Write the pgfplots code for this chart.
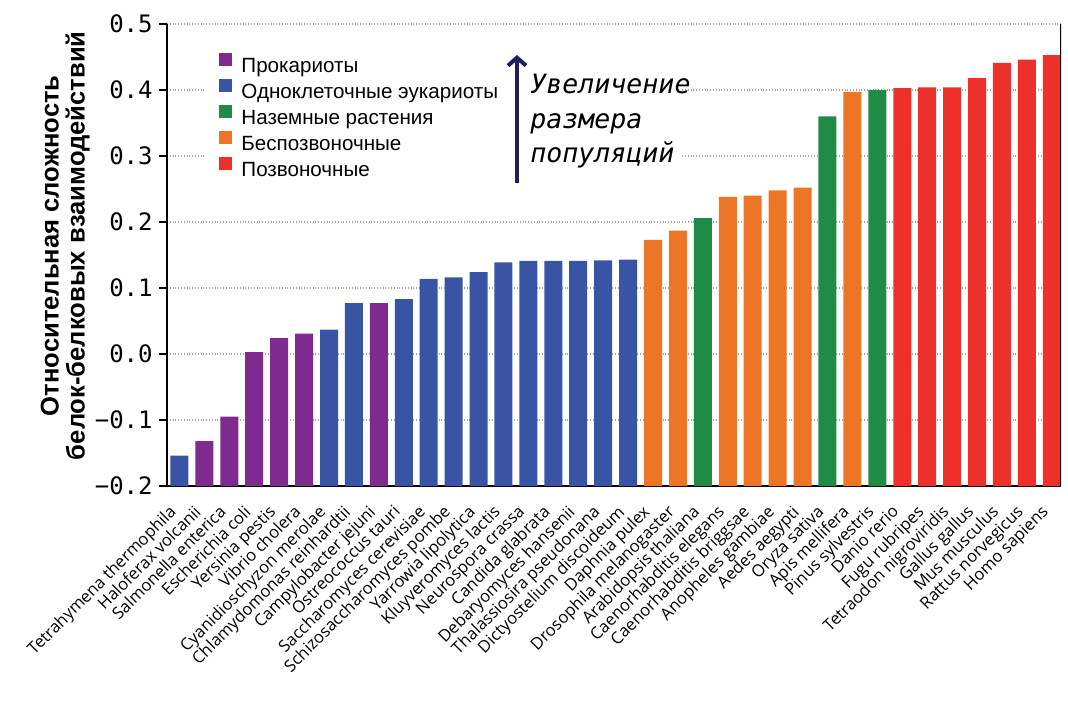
\documentclass[border=0pt]{standalone}
\usepackage{fontspec}
\setmainfont{Liberation Sans}
\newfontfamily\monofont{DejaVu Sans Mono}
\newfontfamily\labelfont{Open Sans}
\usepackage{pgfplots}
\pgfplotsset{compat=1.18}
\usetikzlibrary{arrows.meta}
\definecolor{cPur}{HTML}{7E2A8E}
\definecolor{cBlu}{HTML}{3A54A5}
\definecolor{cGrn}{HTML}{1E8C47}
\definecolor{cOrg}{HTML}{EC7625}
\definecolor{cRed}{HTML}{EE302A}
\definecolor{cNavy}{HTML}{221E5E}
\pgfplotsset{
  mybar/.style={ybar, bar width=9pt, bar shift=0pt, draw=none, fill=#1,
    legend image code/.code={\fill[#1] (0pt,0.4pt) rectangle (6.5pt,6.9pt);}},
}
\begin{document}
\begin{tikzpicture}
\path[use as bounding box] (0,0) rectangle (534pt,355.5pt);
\begin{axis}[
  at={(83.5pt,112.5pt)}, anchor=south west,
  scale only axis, width=447pt, height=231pt,
  xmin=-0.5, xmax=35.37, ymin=-0.2, ymax=0.5,
  y coord trafo/.code={\pgfmathparse{#1+0.2}},
  y coord inv trafo/.code={\pgfmathparse{#1-0.2}},
  axis x line*=bottom, axis y line*=left,
  axis line style={line width=1.2pt, black},
  ytick={-0.2,-0.1,0,0.1,0.2,0.3,0.4,0.5},
  yticklabels={−0.2,−0.1,0.0,0.1,0.2,0.3,0.4,0.5},
  yticklabel style={font=\monofont\fontsize{12}{12}\selectfont, inner sep=0pt, xshift=-3pt},
  ytick style={line width=1pt, black},
  tick align=outside, major tick length=4pt,
  ymajorgrids, grid style={densely dotted, gray!70, line width=0.6pt},
  xtick={0,...,35},
  xtick style={draw=none},
  xticklabels={Tetrahymena thermophila, Haloferax volcanii, Salmonella enterica, Escherichia coli, Yersinia pestis, Vibrio cholera, Cyanidioschyzon merolae, Chlamydomonas reinhardtii, Campylobacter jejuni, Ostreococcus tauri, Saccharomyces cerevisiae, Schizosaccharomyces pombe, Yarrowia lipolytica, Kluyveromyces lactis, Neurospora crassa, Candida glabrata, Debaryomyces hansenii, Thalassiosira pseudonana, Dictyostelium discoideum, Daphnia pulex, Drosophila melanogaster, Arabidopsis thaliana, Caenorhabditis elegans, Caenorhabditis briggsae, Anopheles gambiae, Aedes aegypti, Oryza sativa, Apis mellifera, Pinus sylvestris, Danio rerio, Fugu rubripes, Tetraodon nigroviridis, Gallus gallus, Mus musculus, Rattus norvegicus, Homo sapiens},
  xticklabel style={font=\labelfont\fontsize{8.3}{9}\selectfont, xshift=-5.7pt, yshift=-4.8pt, rotate=45, anchor=north east, inner sep=0pt},
  ylabel={Относительная сложность\\белок-белковых взаимодействий},
  ylabel style={font=\bfseries\fontsize{12.8}{13}\selectfont, align=center, at={(axis description cs:-0.086,0.52)}, anchor=south, inner sep=0pt},
  legend style={at={(axis description cs:0.0515,0.946)}, anchor=north west, draw=none, fill=none,
    font=\fontsize{10.3}{12}\selectfont, row sep=0.8pt, column sep=4.5pt,
    nodes={inner sep=0pt, text height=8pt, text depth=2.5pt}},
  legend cell align=left,
]
\fill[white] (axis description cs:0.0425,0.641) rectangle (axis description cs:0.574,0.955);
\addplot[mybar=cPur] coordinates {(1,-0.132) (2,-0.095) (3,0.003) (4,0.024) (5,0.031) (8,0.077)};
\addlegendentry{Прокариоты}
\addplot[mybar=cBlu] coordinates {(0,-0.154) (6,0.037) (7,0.077) (9,0.083) (10,0.114) (11,0.116) (12,0.124) (13,0.139) (14,0.141) (15,0.141) (16,0.141) (17,0.142) (18,0.143)};
\addlegendentry{Одноклеточные эукариоты}
\addplot[mybar=cGrn] coordinates {(21,0.206) (26,0.360) (28,0.400)};
\addlegendentry{Наземные растения}
\addplot[mybar=cOrg] coordinates {(19,0.173) (20,0.187) (22,0.238) (23,0.240) (24,0.248) (25,0.252) (27,0.397)};
\addlegendentry{Беспозвоночные}
\addplot[mybar=cRed] coordinates {(29,0.403) (30,0.404) (31,0.404) (32,0.418) (33,0.441) (34,0.446) (35,0.453)};
\addlegendentry{Позвоночные}
\draw[line width=1.2pt, black] (axis description cs:1,0) -- (axis description cs:1,1);
\draw[line width=2pt, cNavy, -{Straight Barb[length=4pt,width=9pt,line width=2pt]}] (axis description cs:0.3915,0.656) -- (axis description cs:0.3915,0.933);
\node[anchor=north west, align=left, inner sep=0pt, font=\monofont\itshape\fontsize{13.3}{17.3}\selectfont] at (axis description cs:0.406,0.892) {Увеличение\\размера\\популяций};
\end{axis}
\end{tikzpicture}
\end{document}
